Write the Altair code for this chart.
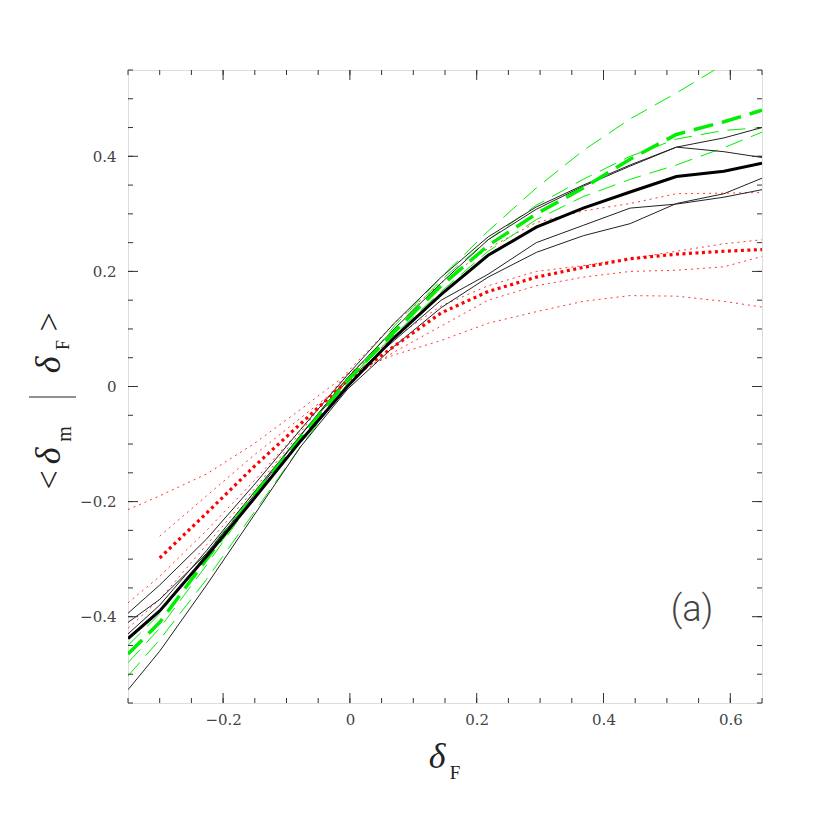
import altair as alt
import pandas as pd

# ---------------- data ----------------
X_NODES = [-0.35, -0.30, -0.226, -0.152, -0.078, -0.004, 0.07, 0.144, 0.218, 0.294, 0.368, 0.442, 0.515, 0.59, 0.65]

BLACK_MEAN = [-0.438, -0.39, -0.295, -0.196, -0.095, 0.0, 0.085, 0.16, 0.228, 0.277, 0.31, 0.338, 0.365, 0.374, 0.388]
BLACK_A = [-0.394, -0.345, -0.265, -0.172, -0.075, 0.02, 0.11, 0.19, 0.26, 0.312, 0.35, 0.385, 0.416, 0.408, 0.398]
BLACK_B = [-0.41, -0.37, -0.29, -0.19, -0.085, 0.015, 0.10, 0.18, 0.255, 0.308, 0.348, 0.383, 0.416, 0.432, 0.45]
BLACK_C = [-0.43, -0.38, -0.285, -0.185, -0.085, 0.01, 0.08, 0.15, 0.195, 0.25, 0.28, 0.31, 0.317, 0.329, 0.342]
BLACK_D = [-0.527, -0.46, -0.345, -0.225, -0.105, -0.005, 0.07, 0.137, 0.19, 0.233, 0.262, 0.283, 0.318, 0.335, 0.362]

GREEN_MEAN = [-0.465, -0.41, -0.30, -0.19, -0.09, 0.01, 0.095, 0.175, 0.245, 0.30, 0.345, 0.395, 0.438, 0.46, 0.48]
GREEN_1 = [-0.503, -0.44, -0.335, -0.22, -0.105, 0.005, 0.105, 0.19, 0.27, 0.345, 0.41, 0.465, 0.51, 0.56, 0.60]
GREEN_2 = [-0.45, -0.395, -0.29, -0.185, -0.085, 0.015, 0.10, 0.185, 0.255, 0.315, 0.36, 0.40, 0.43, 0.445, 0.45]
GREEN_3 = [-0.48, -0.42, -0.31, -0.195, -0.09, 0.01, 0.09, 0.165, 0.235, 0.29, 0.33, 0.36, 0.385, 0.415, 0.442]

RED_MEAN = [None, -0.298, -0.22, -0.14, -0.065, 0.01, 0.07, 0.128, 0.165, 0.19, 0.207, 0.222, 0.23, 0.235, 0.238]
RED_1 = [-0.214, -0.19, -0.152, -0.10, -0.04, 0.022, 0.055, 0.08, 0.11, 0.13, 0.148, 0.158, 0.157, 0.148, 0.138]
RED_2 = [None, -0.26, -0.19, -0.12, -0.055, 0.01, 0.06, 0.105, 0.15, 0.175, 0.19, 0.20, 0.202, 0.208, 0.226]
RED_3 = [-0.376, -0.33, -0.25, -0.165, -0.075, 0.02, 0.085, 0.14, 0.175, 0.20, 0.21, 0.222, 0.235, 0.248, 0.255]
RED_4 = [-0.42, -0.37, -0.275, -0.18, -0.08, 0.025, 0.11, 0.18, 0.24, 0.285, 0.305, 0.318, 0.335, 0.336, 0.337]

X_TICK_MINOR = [-0.35, -0.30, -0.25, -0.20, -0.15, -0.10, -0.05, 0.0, 0.05, 0.10, 0.15, 0.20, 0.25,
                0.30, 0.35, 0.40, 0.45, 0.50, 0.55, 0.60, 0.65]
X_TICK_MAJOR = [-0.2, 0.0, 0.2, 0.4, 0.6]
Y_TICK_MINOR = [-0.55, -0.50, -0.45, -0.40, -0.35, -0.30, -0.25, -0.20, -0.15, -0.10, -0.05, 0.0, 0.05,
                0.10, 0.15, 0.20, 0.25, 0.30, 0.35, 0.40, 0.45, 0.50, 0.55]
Y_TICK_MAJOR = [-0.4, -0.2, 0.0, 0.2, 0.4]

SERIES = [
    ("black_mean", "black_thick", BLACK_MEAN),
    ("black_a", "black_thin", BLACK_A),
    ("black_b", "black_thin", BLACK_B),
    ("black_c", "black_thin", BLACK_C),
    ("black_d", "black_thin", BLACK_D),
    ("green_mean", "green_thick", GREEN_MEAN),
    ("green_1", "green_thin", GREEN_1),
    ("green_2", "green_thin", GREEN_2),
    ("green_3", "green_thin", GREEN_3),
    ("red_mean", "red_thick", RED_MEAN),
    ("red_1", "red_thin", RED_1),
    ("red_2", "red_thin", RED_2),
    ("red_3", "red_thin", RED_3),
    ("red_4", "red_thin", RED_4),
]

rows = []
for name, group, vals in SERIES:
    for xv, yv in zip(X_NODES, vals):
        if yv is not None:
            rows.append({"x": xv, "y": yv, "series": name, "group": group})
df = pd.DataFrame(rows)

# ---------------- chart ----------------
W, H = 634, 633
FONT = "Liberation Serif"
LABEL_FONT = "DejaVu Serif"

xscale = alt.Scale(domain=[-0.35, 0.65], nice=False, zero=False)
yscale = alt.Scale(domain=[-0.55, 0.55], nice=False, zero=False)
xaxis = alt.Axis(values=X_TICK_MAJOR, format=".1~f", ticks=False, domain=False, grid=False,
                 labelFont=LABEL_FONT, labelFontSize=15, labelPadding=9, labelColor="#444", title=None)
yaxis = alt.Axis(values=Y_TICK_MAJOR, format=".1~f", ticks=False, domain=False, grid=False,
                 labelFont=LABEL_FONT, labelFontSize=15, labelPadding=12, labelColor="#444", title=None)


def line_layer(group, **mark):
    return alt.Chart(df).transform_filter(alt.datum.group == group).mark_line(clip=True, **mark).encode(
        x=alt.X("x:Q", scale=xscale, axis=xaxis),
        y=alt.Y("y:Q", scale=yscale, axis=yaxis),
        detail="series:N",
        order="x:Q",
    )


layers = [
    line_layer("red_thin", color="#ff2020", strokeWidth=1, strokeDash=[2, 4], opacity=0.9),
    line_layer("green_thin", color="#00ee00", strokeWidth=1, strokeDash=[18, 9]),
    line_layer("black_thin", color="#222", strokeWidth=1),
    line_layer("red_thick", color="#ff0000", strokeWidth=3.2, strokeDash=[3, 3.5]),
    line_layer("green_thick", color="#00ee00", strokeWidth=3.5, strokeDash=[20, 9]),
    line_layer("black_thick", color="black", strokeWidth=3),
]

# inward ticks on all four sides
xt_minor = pd.DataFrame({"v": X_TICK_MINOR})
xt_major = pd.DataFrame({"v": X_TICK_MAJOR})
yt_minor = pd.DataFrame({"v": Y_TICK_MINOR})
yt_major = pd.DataFrame({"v": Y_TICK_MAJOR})


def xticks(data, length):
    enc_x = alt.X("v:Q", scale=xscale, axis=xaxis)
    bottom = alt.Chart(data).mark_rule(color="#333", strokeWidth=1).encode(
        x=enc_x, y=alt.value(H), y2=alt.value(H - length))
    top = alt.Chart(data).mark_rule(color="#333", strokeWidth=1).encode(
        x=enc_x, y=alt.value(0), y2=alt.value(length))
    return [bottom, top]


def yticks(data, length):
    enc_y = alt.Y("v:Q", scale=yscale, axis=yaxis)
    left = alt.Chart(data).mark_rule(color="#333", strokeWidth=1).encode(
        y=enc_y, x=alt.value(0), x2=alt.value(length))
    right = alt.Chart(data).mark_rule(color="#333", strokeWidth=1).encode(
        y=enc_y, x=alt.value(W), x2=alt.value(W - length))
    return [left, right]


layers += xticks(xt_minor, 5) + xticks(xt_major, 10) + yticks(yt_minor, 5) + yticks(yt_major, 10)

one = pd.DataFrame({"d": [0]})


def txt(s, x, y, size, angle=0, align="center", baseline="alphabetic", color="#222",
        font=FONT, style="normal", weight="normal"):
    return alt.Chart(one).mark_text(text=s, font=font, fontSize=size, angle=angle, align=align,
                                    baseline=baseline, color=color, fontStyle=style,
                                    fontWeight=weight).encode(
        x=alt.value(x), y=alt.value(y))


# y-axis title  <δm | δF>  (rotated), positions relative to the plot origin
layers += [
    txt("<", -68, 410, 34, angle=270),
    txt("δ", -68, 386, 36, angle=270, style="italic"),
    txt("m", -57, 364, 20, angle=270),
    txt(">", -68, 252, 34, angle=270),
    txt("δ", -68, 295, 36, angle=270, style="italic"),
    txt("F", -59, 275, 18, angle=270),
    alt.Chart(one).mark_rule(color="#222", strokeWidth=1).encode(
        x=alt.value(-99), x2=alt.value(-52), y=alt.value(327)),
]
# x-axis title δF
layers += [
    txt("δ", 309, 698, 36, style="italic"),
    txt("F", 327, 709, 19),
]
# panel label
layers += [txt("(a)", 564, 551, 36, color="#444", font="Roboto", weight=300)]

chart = alt.layer(*layers).properties(
    width=W, height=H,
    autosize=alt.AutoSizeParams(type="none"),
    padding={"left": 120, "top": 62, "right": 50, "bottom": 110},
).configure_view(stroke="#222", strokeWidth=1).configure(background="white")

chart.save("out.html", embed_options={"renderer": "svg", "actions": False})
